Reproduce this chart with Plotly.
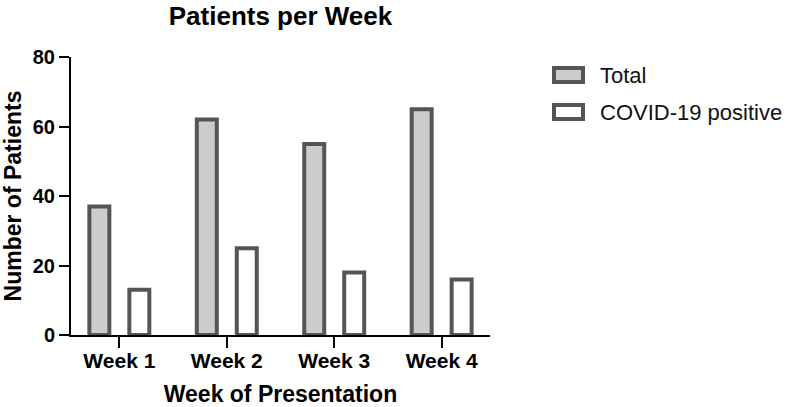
import plotly.graph_objects as go

weeks = ["Week 1", "Week 2", "Week 3", "Week 4"]
total = [37, 62, 55, 65]
covid_positive = [13, 25, 18, 16]
series_names = ["Total", "COVID-19 positive"]
y_ticks = [0, 20, 40, 60, 80]

W, H = 787, 407
ML, MR, MT, MB = 71, 297, 57, 72
PW, PH = W - ML - MR, H - MT - MB

edge = "#555555"
fills = ["#cccccc", "#ffffff"]
FONT = "Liberation Sans, Arial, Helvetica, sans-serif"

fig = go.Figure()
for name, vals, fc in zip(series_names, [total, covid_positive], fills):
    fig.add_trace(go.Bar(
        x=weeks, y=vals, name=name,
        marker=dict(color=fc, line=dict(color=edge, width=4)),
        showlegend=False,
    ))

def px_x(p):
    return (p - ML) / PW

def px_y(p):
    return (H - MB - p) / PH

shapes = []
annotations = []
legend_rows = [(75, fills[0], series_names[0]), (112, fills[1], series_names[1])]
for cy, fc, name in legend_rows:
    shapes.append(dict(type="rect", xref="paper", yref="paper",
                       x0=px_x(554), x1=px_x(583), y0=px_y(cy - 7), y1=px_y(cy + 7),
                       fillcolor=fc, line=dict(color=edge, width=4)))
    annotations.append(dict(xref="paper", yref="paper", x=px_x(598), y=px_y(cy),
                            xanchor="left", yanchor="middle", text=name, showarrow=False,
                            font=dict(family=FONT, size=22, color="#111111")))

fig.update_layout(
    width=W, height=H,
    margin=dict(l=ML, r=MR, t=MT, b=MB, autoexpand=False),
    paper_bgcolor="white", plot_bgcolor="white",
    barmode="group", bargap=0.256, bargroupgap=0.5,
    title=dict(text="Patients per Week", x=(ML + PW / 2) / W, xanchor="center",
               xref="container", yref="container", y=1 - 16 / H, yanchor="middle",
               font=dict(family=FONT, size=26, color="#000000", weight="bold")),
    xaxis=dict(range=[-0.45, 3.45], showline=True, linecolor="#000000", linewidth=2,
               ticks="outside", ticklen=11, tickwidth=2, tickcolor="#000000",
               showgrid=False, zeroline=False, ticklabelstandoff=-5,
               tickfont=dict(family=FONT, size=21, color="#000000", weight="bold"),
               title=dict(text="Week of Presentation", standoff=16,
                          font=dict(family=FONT, size=23, color="#000000", weight="bold")),
               automargin=False),
    yaxis=dict(range=[0, 80], tickvals=y_ticks, showline=True, linecolor="#000000", linewidth=2,
               ticks="outside", ticklen=10, tickwidth=2, tickcolor="#000000",
               showgrid=False, zeroline=False,
               tickfont=dict(family=FONT, size=20, color="#000000", weight="bold"),
               title=dict(text="Number of Patients", standoff=6,
                          font=dict(family=FONT, size=23, color="#000000", weight="bold")),
               automargin=False),
    shapes=shapes,
    annotations=annotations,
)

fig.write_html("out.html", config={"displayModeBar": False},
               post_script="document.body.style.margin='0';")
